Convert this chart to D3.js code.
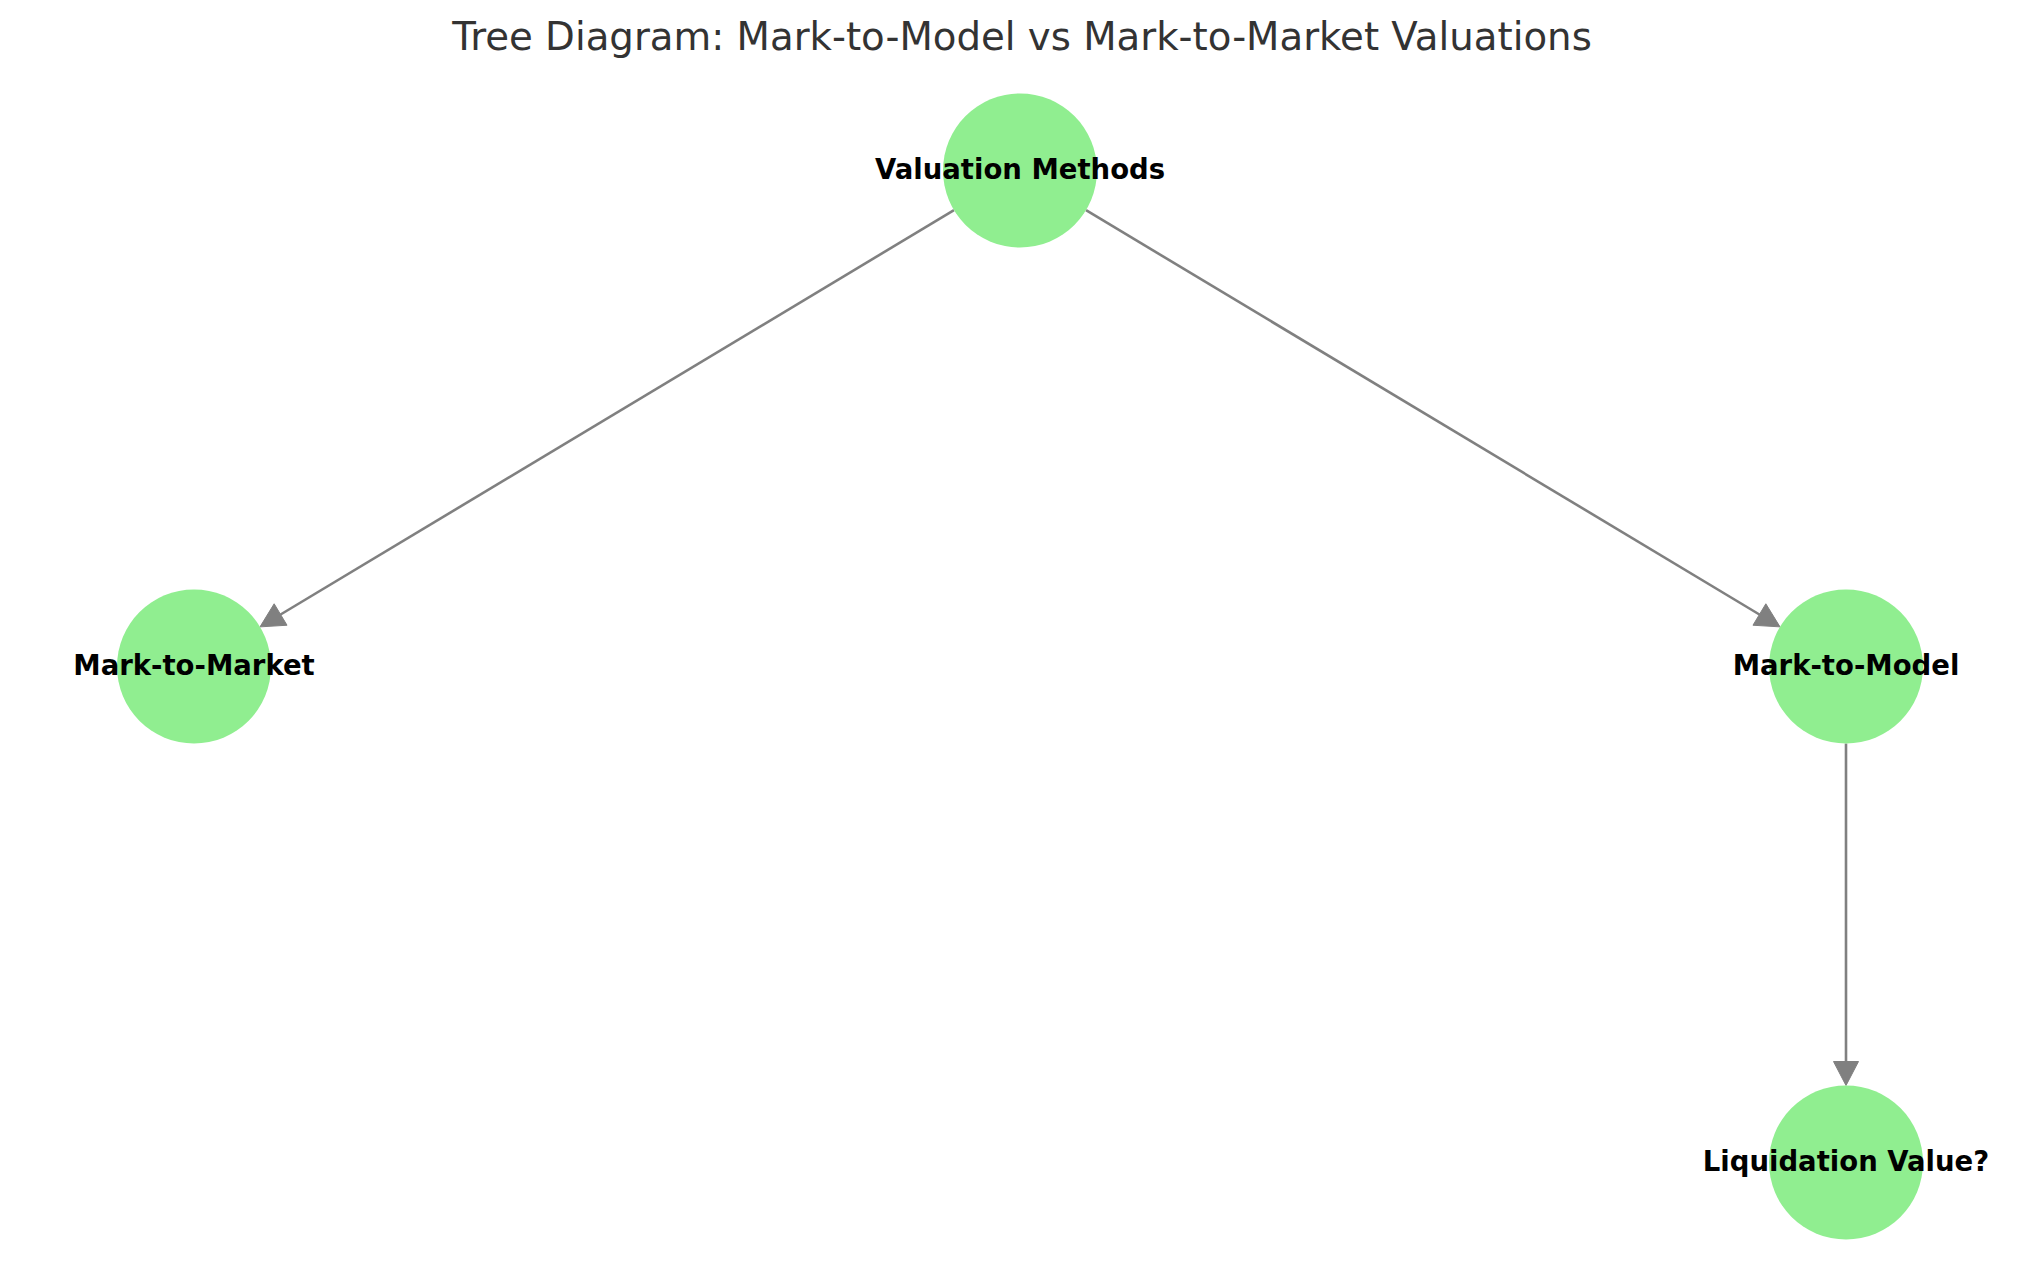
<!DOCTYPE html>
<html>
<head>
<meta charset="utf-8">
<script src="https://cdn.jsdelivr.net/npm/d3@7"></script>
<style>
  html, body { margin: 0; padding: 0; background: #ffffff; }
  svg { display: block; }
</style>
</head>
<body>
<script>
// Data
var nodeNames = ["Valuation Methods", "Mark-to-Market", "Mark-to-Model", "Liquidation Value?"];
var nodeParents = ["", "Valuation Methods", "Valuation Methods", "Mark-to-Model"];
var chartTitle = "Tree Diagram: Mark-to-Model vs Mark-to-Market Valuations";

// Settings
var width = 2039;
var height = 1286;
var leftX = 194;
var rightX = 1846;
var topY = 170.5;
var levelGap = 496;
var nodeRadius = 77;
var headLength = 24;
var headHalf = 12.5;
var nodeColor = "#90EE90";
var edgeColor = "#808080";

var svg = d3.select("body").append("svg").attr("width", width).attr("height", height);
svg.append("rect").attr("width", width).attr("height", height).attr("fill", "#ffffff");

// Title
svg.append("text").attr("x", 1022).attr("y", 50).attr("text-anchor", "middle")
    .attr("font-family", "DejaVu Sans, sans-serif").attr("font-size", 38.7).attr("fill", "#333333")
    .text(chartTitle);

// Layout
var rows = nodeNames.map(function(n, i) { return {id: n, parent: nodeParents[i]}; });
var root = d3.stratify().id(function(d) { return d.id; }).parentId(function(d) { return d.parent || null; })(rows);
d3.tree().nodeSize([1, 1]).separation(function() { return 1; })(root);

var all = root.descendants();
var xScale = d3.scaleLinear().domain(d3.extent(all, function(d) { return d.x; })).range([leftX, rightX]);
var yScale = d3.scaleLinear().domain([0, 1]).range([topY, topY + levelGap]);
all.forEach(function(d) { d.px = xScale(d.x); d.py = yScale(d.y); });

var g = svg.append("g");

// Edges
var edges = g.append("g");
root.links().forEach(function(l) {
    var dx = l.target.px - l.source.px;
    var dy = l.target.py - l.source.py;
    var len = Math.sqrt(dx * dx + dy * dy);
    var ux = dx / len, uy = dy / len;
    var sx = l.source.px + ux * nodeRadius, sy = l.source.py + uy * nodeRadius;
    var tx = l.target.px - ux * nodeRadius, ty = l.target.py - uy * nodeRadius;
    var bx = tx - ux * headLength, by = ty - uy * headLength;
    edges.append("line").attr("x1", sx).attr("y1", sy).attr("x2", bx).attr("y2", by)
        .attr("stroke", edgeColor).attr("stroke-width", 2.6);
    var pts = [[tx, ty], [bx - uy * headHalf, by + ux * headHalf], [bx + uy * headHalf, by - ux * headHalf]];
    edges.append("polygon").attr("points", pts.map(function(p) { return p.join(","); }).join(" "))
        .attr("fill", edgeColor).attr("stroke", edgeColor).attr("stroke-width", 1);
});

// Nodes
var nodes = g.selectAll("g.node").data(all).enter().append("g")
    .attr("class", "node")
    .attr("transform", function(d) { return "translate(" + d.px + ", " + d.py + ")"; });
nodes.append("circle").attr("r", nodeRadius).attr("fill", nodeColor);
nodes.append("text").attr("text-anchor", "middle").attr("y", 8)
    .attr("font-family", "DejaVu Sans, sans-serif").attr("font-weight", "bold").attr("font-size", 27.5)
    .attr("fill", "#000000")
    .text(function(d) { return d.id; });
</script>
</body>
</html>
